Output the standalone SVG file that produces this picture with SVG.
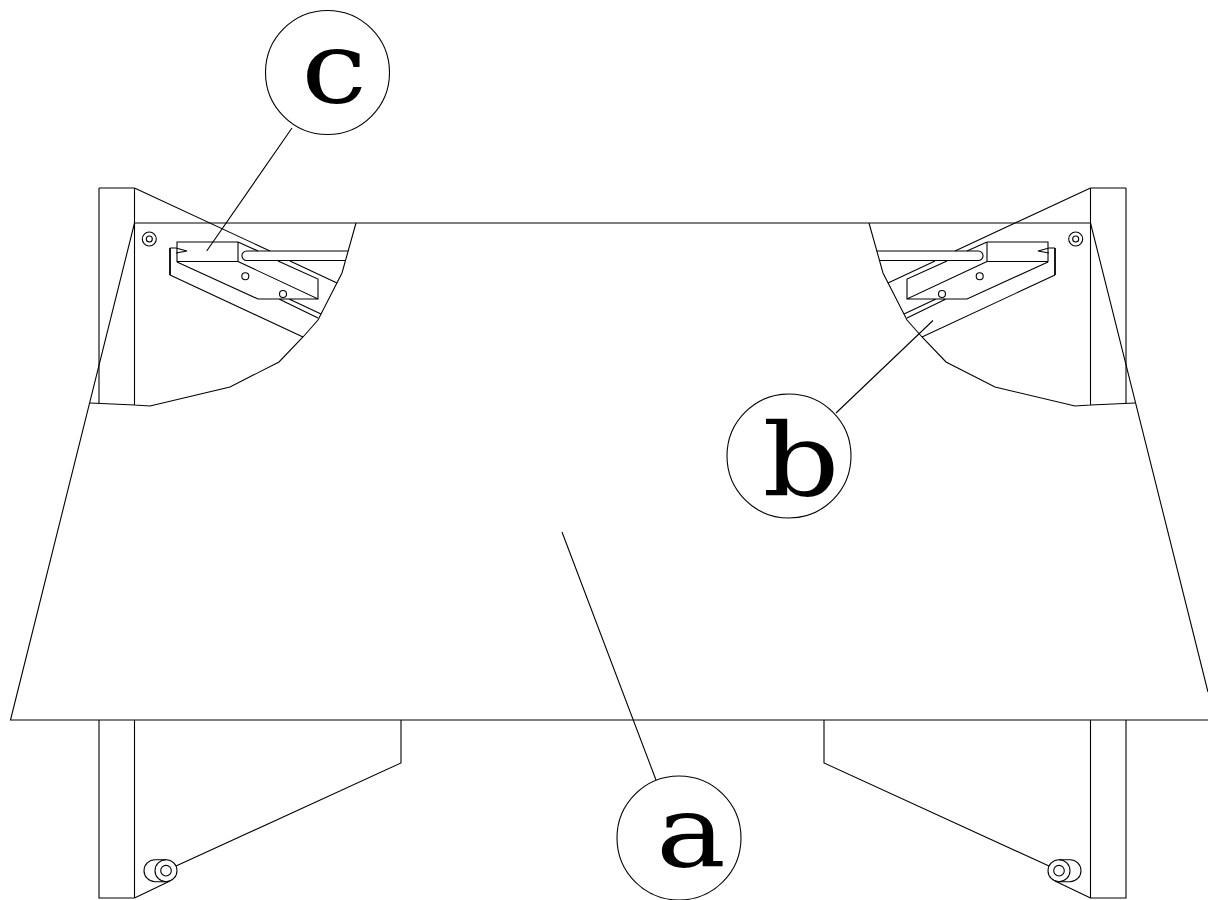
<svg xmlns="http://www.w3.org/2000/svg" xmlns:xlink="http://www.w3.org/1999/xlink" width="1208" height="900" viewBox="0 0 1208 900">
<style>
.l{fill:none;stroke:#000;stroke-width:1.1}
.t{font-family:"DejaVu Serif",serif;fill:#000;font-size:102px;text-anchor:middle}
</style>
<defs>
<g id="upper">
<path class="l" d="M99 188H134.500M99 188V403M134.500 188V405M90 403L134.500 405L150 406L230 387L279 362L303 337L318 320L342 273L356 223"/>
<path class="l" d="M134.500 188L270 251M290 261L337 283"/>
<circle class="l" cx="149.300" cy="239" r="7"/><circle class="l" cx="149.300" cy="239" r="3"/>
<path class="l" d="M177 248V242H238V261.500H177V248M238 242L258 251M238 261.500L318 299V279L278 261M177 262L258 299H318M170 275L303 337M289 299L321 314M279 299L318 318"/>
<path class="l" style="stroke-width:1.800" d="M170 248V275"/>
<path class="l" d="M170 248H176L187 251L176 253"/>
<path class="l" d="M348 251H246.700A4.700 4.700 0 0 0 246.700 260.500H345.700"/>
<circle class="l" cx="245.300" cy="276.300" r="3.500"/><circle class="l" cx="283" cy="294" r="3.500"/>
</g>
<g id="lower">
<path class="l" d="M99 720V898H134.500V720M134.500 898L170 881M176 866L401 763V720"/>
<path class="l" d="M166 859.700H155A11 11 0 0 0 155 881.700H166"/>
<circle class="l" cx="166" cy="870.700" r="11"/><circle class="l" cx="166" cy="870.700" r="5.300"/>
</g>
</defs>
<g id="node-frame-left"><use xlink:href="#upper" href="#upper"/><use xlink:href="#lower" href="#lower"/></g>
<g id="node-frame-right" transform="matrix(-1 0 0 1 1225 0)"><use xlink:href="#upper" href="#upper"/><use xlink:href="#lower" href="#lower"/></g>
<g id="node-table"><path class="l" d="M134.500 223H1090.500M134.500 223L10.500 720H1208M1090.500 223L1208 692"/></g>
<g id="connectors"><path class="l" d="M562 532L656 780M836 413L933 320.500M292 128L206.700 251"/></g>
<g id="node-c"><circle class="l" cx="327.500" cy="72.500" r="62"/><text class="t" transform="translate(334 103) scale(1.15 1)">c</text></g>
<g id="node-b"><circle class="l" cx="789" cy="456" r="62"/><text class="t" transform="translate(801 496) scale(1.18 1)">b</text></g>
<g id="node-a"><circle class="l" cx="679" cy="838" r="62"/><text class="t" transform="translate(691 867) scale(1.15 1)">a</text></g>
</svg>
